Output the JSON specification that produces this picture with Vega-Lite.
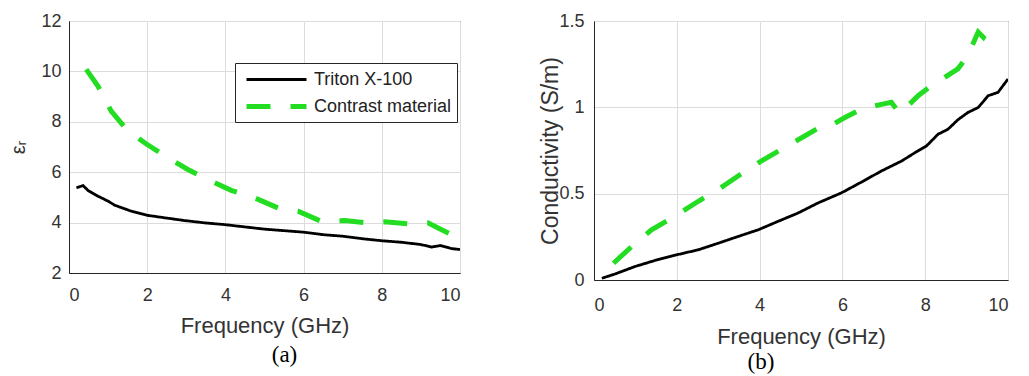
{
  "$schema": "https://vega.github.io/schema/vega-lite/v6.json",
  "background": "white",
  "padding": {"left": 8, "top": 11, "right": 0, "bottom": 0},
  "bounds": "flush",
  "spacing": 134,
  "datasets": {
    "eps": [
      {"f": 0.19, "v": 5.38, "s": "Triton X-100"},
      {"f": 0.36, "v": 5.47, "s": "Triton X-100"},
      {"f": 0.49, "v": 5.27, "s": "Triton X-100"},
      {"f": 0.74, "v": 5.05, "s": "Triton X-100"},
      {"f": 1.0, "v": 4.85, "s": "Triton X-100"},
      {"f": 1.17, "v": 4.69, "s": "Triton X-100"},
      {"f": 1.6, "v": 4.45, "s": "Triton X-100"},
      {"f": 2.0, "v": 4.29, "s": "Triton X-100"},
      {"f": 2.45, "v": 4.19, "s": "Triton X-100"},
      {"f": 2.96, "v": 4.08, "s": "Triton X-100"},
      {"f": 3.47, "v": 3.99, "s": "Triton X-100"},
      {"f": 3.98, "v": 3.92, "s": "Triton X-100"},
      {"f": 4.49, "v": 3.83, "s": "Triton X-100"},
      {"f": 5.0, "v": 3.74, "s": "Triton X-100"},
      {"f": 5.5, "v": 3.68, "s": "Triton X-100"},
      {"f": 6.0, "v": 3.62, "s": "Triton X-100"},
      {"f": 6.5, "v": 3.52, "s": "Triton X-100"},
      {"f": 7.0, "v": 3.46, "s": "Triton X-100"},
      {"f": 7.5, "v": 3.36, "s": "Triton X-100"},
      {"f": 8.0, "v": 3.28, "s": "Triton X-100"},
      {"f": 8.5, "v": 3.22, "s": "Triton X-100"},
      {"f": 9.0, "v": 3.13, "s": "Triton X-100"},
      {"f": 9.27, "v": 3.03, "s": "Triton X-100"},
      {"f": 9.5, "v": 3.09, "s": "Triton X-100"},
      {"f": 9.78, "v": 2.97, "s": "Triton X-100"},
      {"f": 10.0, "v": 2.93, "s": "Triton X-100"},
      {"f": 0.44, "v": 10.08, "s": "Contrast material"},
      {"f": 0.74, "v": 9.42, "s": "Contrast material"},
      {"f": 1.08, "v": 8.42, "s": "Contrast material"},
      {"f": 1.51, "v": 7.63, "s": "Contrast material"},
      {"f": 2.0, "v": 7.1, "s": "Contrast material"},
      {"f": 2.53, "v": 6.57, "s": "Contrast material"},
      {"f": 3.04, "v": 6.11, "s": "Contrast material"},
      {"f": 3.55, "v": 5.71, "s": "Contrast material"},
      {"f": 4.15, "v": 5.28, "s": "Contrast material"},
      {"f": 4.75, "v": 4.98, "s": "Contrast material"},
      {"f": 5.35, "v": 4.58, "s": "Contrast material"},
      {"f": 5.86, "v": 4.45, "s": "Contrast material"},
      {"f": 6.45, "v": 4.05, "s": "Contrast material"},
      {"f": 7.05, "v": 4.08, "s": "Contrast material"},
      {"f": 7.65, "v": 3.99, "s": "Contrast material"},
      {"f": 8.07, "v": 4.03, "s": "Contrast material"},
      {"f": 8.67, "v": 3.95, "s": "Contrast material"},
      {"f": 9.18, "v": 3.99, "s": "Contrast material"},
      {"f": 9.44, "v": 3.79, "s": "Contrast material"},
      {"f": 10.0, "v": 3.35, "s": "Contrast material"}
    ],
    "sigma": [
      {"f": 0.19, "v": 0.01, "s": "Triton X-100"},
      {"f": 0.51, "v": 0.035, "s": "Triton X-100"},
      {"f": 0.99, "v": 0.078, "s": "Triton X-100"},
      {"f": 1.47, "v": 0.113, "s": "Triton X-100"},
      {"f": 2.0, "v": 0.146, "s": "Triton X-100"},
      {"f": 2.52, "v": 0.175, "s": "Triton X-100"},
      {"f": 3.0, "v": 0.213, "s": "Triton X-100"},
      {"f": 3.48, "v": 0.252, "s": "Triton X-100"},
      {"f": 3.97, "v": 0.291, "s": "Triton X-100"},
      {"f": 4.45, "v": 0.34, "s": "Triton X-100"},
      {"f": 4.93, "v": 0.388, "s": "Triton X-100"},
      {"f": 5.41, "v": 0.446, "s": "Triton X-100"},
      {"f": 5.98, "v": 0.505, "s": "Triton X-100"},
      {"f": 6.46, "v": 0.567, "s": "Triton X-100"},
      {"f": 6.94, "v": 0.631, "s": "Triton X-100"},
      {"f": 7.43, "v": 0.689, "s": "Triton X-100"},
      {"f": 7.75, "v": 0.737, "s": "Triton X-100"},
      {"f": 8.03, "v": 0.776, "s": "Triton X-100"},
      {"f": 8.31, "v": 0.844, "s": "Triton X-100"},
      {"f": 8.55, "v": 0.873, "s": "Triton X-100"},
      {"f": 8.79, "v": 0.928, "s": "Triton X-100"},
      {"f": 9.03, "v": 0.97, "s": "Triton X-100"},
      {"f": 9.28, "v": 0.999, "s": "Triton X-100"},
      {"f": 9.52, "v": 1.067, "s": "Triton X-100"},
      {"f": 9.76, "v": 1.087, "s": "Triton X-100"},
      {"f": 10.0, "v": 1.164, "s": "Triton X-100"},
      {"f": 0.47, "v": 0.097, "s": "Contrast material"},
      {"f": 0.91, "v": 0.194, "s": "Contrast material"},
      {"f": 1.39, "v": 0.291, "s": "Contrast material"},
      {"f": 1.95, "v": 0.369, "s": "Contrast material"},
      {"f": 2.52, "v": 0.456, "s": "Contrast material"},
      {"f": 3.0, "v": 0.524, "s": "Contrast material"},
      {"f": 3.48, "v": 0.602, "s": "Contrast material"},
      {"f": 3.97, "v": 0.679, "s": "Contrast material"},
      {"f": 4.53, "v": 0.757, "s": "Contrast material"},
      {"f": 5.09, "v": 0.834, "s": "Contrast material"},
      {"f": 5.58, "v": 0.902, "s": "Contrast material"},
      {"f": 5.82, "v": 0.908, "s": "Contrast material"},
      {"f": 6.06, "v": 0.941, "s": "Contrast material"},
      {"f": 6.46, "v": 0.99, "s": "Contrast material"},
      {"f": 6.86, "v": 1.013, "s": "Contrast material"},
      {"f": 7.18, "v": 1.029, "s": "Contrast material"},
      {"f": 7.38, "v": 0.966, "s": "Contrast material"},
      {"f": 7.5, "v": 0.99, "s": "Contrast material"},
      {"f": 7.83, "v": 1.067, "s": "Contrast material"},
      {"f": 8.15, "v": 1.126, "s": "Contrast material"},
      {"f": 8.47, "v": 1.174, "s": "Contrast material"},
      {"f": 8.79, "v": 1.223, "s": "Contrast material"},
      {"f": 9.03, "v": 1.3, "s": "Contrast material"},
      {"f": 9.28, "v": 1.436, "s": "Contrast material"},
      {"f": 9.44, "v": 1.397, "s": "Contrast material"},
      {"f": 9.68, "v": 1.358, "s": "Contrast material"}
    ]
  },
  "config": {
    "view": {"stroke": "#262626", "strokeWidth": 1},
    "axis": {
      "labelFont": "Liberation Sans",
      "labelFontSize": 18,
      "labelColor": "#333333",
      "titleFont": "Liberation Sans",
      "titleFontSize": 22,
      "titleFontWeight": "normal",
      "titleColor": "#333333",
      "gridColor": "#dcdcdc",
      "domainColor": "#262626",
      "ticks": false,
      "labelPadding": 12
    },
    "axisX": {"titlePadding": 10},
    "legend": {
      "orient": "none",
      "title": null,
      "fillColor": "white",
      "strokeColor": "#262626",
      "padding": 5,
      "labelFont": "Liberation Sans",
      "labelFontSize": 18,
      "labelColor": "#222222",
      "symbolType": "M-3,0H3",
      "symbolSize": 400,
      "symbolOffset": 24,
      "labelOffset": 25,
      "symbolStrokeWidth": 4,
      "rowPadding": 5
    },
    "title": {
      "font": "Liberation Serif",
      "fontSize": 23,
      "fontWeight": "normal",
      "color": "black",
      "orient": "bottom"
    }
  },
  "hconcat": [
    {
      "width": 391,
      "height": 252,
      "data": {"name": "eps"},
      "title": {"text": "(a)", "orient": "bottom", "dx": 20, "offset": 8},
      "mark": {"type": "line", "clip": true},
      "encoding": {
        "x": {"field": "f", "type": "quantitative", "scale": {"domain": [0, 10], "nice": false}, "axis": {"title": "Frequency (GHz)", "values": [0, 2, 4, 6, 8, 10], "labelPadding": 13, "titlePadding": 11}},
        "y": {"field": "v", "type": "quantitative", "scale": {"domain": [2, 12], "nice": false}, "axis": {"title": "εᵣ", "values": [2, 4, 6, 8, 10, 12], "titleFontSize": 20, "titlePadding": 12, "labelPadding": 8}},
        "color": {"field": "s", "type": "nominal", "scale": {"domain": ["Triton X-100", "Contrast material"], "range": ["#000000", "#22dd22"]}, "legend": {"legendX": 166, "legendY": 42}},
        "strokeDash": {"field": "s", "type": "nominal", "scale": {"domain": ["Triton X-100", "Contrast material"], "range": [[1, 0], [24, 20]]}, "legend": {"legendX": 166, "legendY": 42}},
        "strokeWidth": {"field": "s", "type": "ordinal", "scale": {"domain": ["Triton X-100", "Contrast material"], "range": [2.8, 5]}, "legend": {"legendX": 166, "legendY": 42}}
      }
    },
    {
      "width": 414,
      "height": 259,
      "data": {"name": "sigma"},
      "title": {"text": "(b)", "orient": "bottom", "dx": -40, "offset": 4},
      "mark": {"type": "line", "clip": true},
      "encoding": {
        "x": {"field": "f", "type": "quantitative", "scale": {"domain": [0, 10], "nice": false}, "axis": {"title": "Frequency (GHz)", "values": [0, 2, 4, 6, 8, 10], "labelPadding": 16, "titlePadding": 12}},
        "y": {"field": "v", "type": "quantitative", "scale": {"domain": [0, 1.5], "nice": false}, "axis": {"title": "Conductivity (S/m)", "values": [0, 0.5, 1, 1.5], "format": ".1~f", "labelPadding": 10, "titlePadding": -4, "titleFontSize": 23}},
        "color": {"field": "s", "type": "nominal", "scale": {"domain": ["Triton X-100", "Contrast material"], "range": ["#000000", "#22dd22"]}, "legend": {"legendX": 0, "legendY": 13}},
        "strokeDash": {"field": "s", "type": "nominal", "scale": {"domain": ["Triton X-100", "Contrast material"], "range": [[1, 0], [24, 20]]}, "legend": {"legendX": 0, "legendY": 13}},
        "strokeWidth": {"field": "s", "type": "ordinal", "scale": {"domain": ["Triton X-100", "Contrast material"], "range": [2.8, 5]}, "legend": {"legendX": 0, "legendY": 13}}
      }
    }
  ]
}
